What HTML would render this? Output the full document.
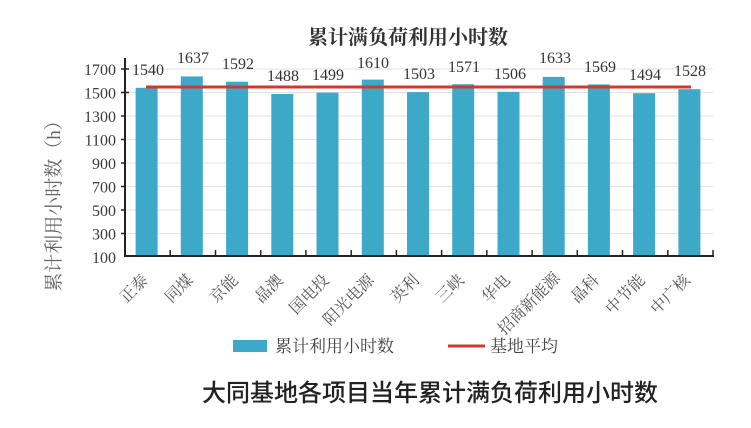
<!DOCTYPE html>
<html><head><meta charset="utf-8"><style>
html,body{margin:0;padding:0;background:#fff;}
svg{display:block;}
.tk{font-family:"Liberation Serif","Noto Serif CJK SC",serif;font-size:16px;fill:#3a3a3a;}
.dl{font-family:"Liberation Serif","Noto Serif CJK SC",serif;font-size:16px;fill:#333;}
.xl{font-family:"Liberation Serif","Noto Serif CJK SC","WenQuanYi Zen Hei",serif;font-size:16px;fill:#555;}
</style></head><body>
<svg width="751" height="428" viewBox="0 0 751 428" xmlns="http://www.w3.org/2000/svg">
<rect width="751" height="428" fill="#fff"/>
<text x="408" y="44" text-anchor="middle" style="font-family:'Liberation Serif','Noto Serif CJK SC',serif;font-size:20px;font-weight:bold;fill:#333">累计满负荷利用小时数</text>
<g stroke="#e2e2e2" stroke-width="1">
<line x1="125" y1="233.5" x2="713" y2="233.5"/>
<line x1="125" y1="210" x2="713" y2="210"/>
<line x1="125" y1="186.5" x2="713" y2="186.5"/>
<line x1="125" y1="163" x2="713" y2="163"/>
<line x1="125" y1="139.5" x2="713" y2="139.5"/>
<line x1="125" y1="116" x2="713" y2="116"/>
<line x1="125" y1="92.5" x2="713" y2="92.5"/>
<line x1="125" y1="69" x2="713" y2="69"/>
</g>
<g class="tk" text-anchor="end">
<text x="116" y="263">100</text>
<text x="116" y="239.5">300</text>
<text x="116" y="216">500</text>
<text x="116" y="192.5">700</text>
<text x="116" y="169">900</text>
<text x="116" y="145.5">1100</text>
<text x="116" y="122">1300</text>
<text x="116" y="98.5">1500</text>
<text x="116" y="75">1700</text>
</g>
<text transform="translate(60,201.5) rotate(-90)" text-anchor="middle" style="font-family:'Liberation Serif','Noto Serif CJK SC',serif;font-size:19px;fill:#666">累计利用小时数（h）</text>
<g fill="#3da9c8">
<rect x="135.6" y="87.8" width="22" height="168.2"/>
<rect x="180.8" y="76.4" width="22" height="179.6"/>
<rect x="226.1" y="81.7" width="22" height="174.3"/>
<rect x="271.3" y="93.9" width="22" height="162.1"/>
<rect x="316.5" y="92.6" width="22" height="163.4"/>
<rect x="361.8" y="79.6" width="22" height="176.4"/>
<rect x="407.0" y="92.1" width="22" height="163.9"/>
<rect x="452.2" y="84.2" width="22" height="171.8"/>
<rect x="497.5" y="91.8" width="22" height="164.2"/>
<rect x="542.7" y="76.9" width="22" height="179.1"/>
<rect x="587.9" y="84.4" width="22" height="171.6"/>
<rect x="633.1" y="93.2" width="22" height="162.8"/>
<rect x="678.4" y="89.2" width="22" height="166.8"/>
</g>
<line x1="146" y1="87" x2="691" y2="87" stroke="#d2392e" stroke-width="3"/>
<g stroke="#222" stroke-width="2">
<line x1="125" y1="58" x2="125" y2="257"/>
<line x1="124" y1="256" x2="714" y2="256"/>
</g>
<g stroke="#222" stroke-width="1.5">
<line x1="121" y1="69" x2="129" y2="69"/>
<line x1="121" y1="92.5" x2="129" y2="92.5"/>
<line x1="121" y1="116" x2="125" y2="116"/>
<line x1="121" y1="139.5" x2="125" y2="139.5"/>
<line x1="121" y1="163" x2="125" y2="163"/>
<line x1="121" y1="186.5" x2="125" y2="186.5"/>
<line x1="121" y1="210" x2="125" y2="210"/>
<line x1="121" y1="233.5" x2="125" y2="233.5"/>
<line x1="170.2" y1="250" x2="170.2" y2="256"/>
<line x1="215.5" y1="250" x2="215.5" y2="256"/>
<line x1="260.7" y1="250" x2="260.7" y2="256"/>
<line x1="305.9" y1="250" x2="305.9" y2="256"/>
<line x1="351.2" y1="250" x2="351.2" y2="256"/>
<line x1="396.4" y1="250" x2="396.4" y2="256"/>
<line x1="441.6" y1="250" x2="441.6" y2="256"/>
<line x1="486.8" y1="250" x2="486.8" y2="256"/>
<line x1="532.1" y1="250" x2="532.1" y2="256"/>
<line x1="577.3" y1="250" x2="577.3" y2="256"/>
<line x1="622.5" y1="250" x2="622.5" y2="256"/>
<line x1="667.8" y1="250" x2="667.8" y2="256"/>
<line x1="713" y1="250" x2="713" y2="256"/>
</g>
<g class="dl" text-anchor="middle">
<text x="148" y="75">1540</text>
<text x="193" y="63">1637</text>
<text x="238" y="69">1592</text>
<text x="283" y="81">1488</text>
<text x="328" y="80">1499</text>
<text x="373" y="68">1610</text>
<text x="419" y="79">1503</text>
<text x="464" y="72">1571</text>
<text x="510" y="79">1506</text>
<text x="555" y="63">1633</text>
<text x="600" y="72">1569</text>
<text x="645" y="80">1494</text>
<text x="690" y="76">1528</text>
</g>
<g class="xl" text-anchor="end">
<text transform="translate(149,281) rotate(-45)">正泰</text>
<text transform="translate(194,281) rotate(-45)">同煤</text>
<text transform="translate(239,281) rotate(-45)">京能</text>
<text transform="translate(284,281) rotate(-45)">晶澳</text>
<text transform="translate(330,281) rotate(-45)">国电投</text>
<text transform="translate(375,281) rotate(-45)">阳光电源</text>
<text transform="translate(420,281) rotate(-45)">英利</text>
<text transform="translate(465,281) rotate(-45)">三峡</text>
<text transform="translate(511,281) rotate(-45)">华电</text>
<text transform="translate(561,279) rotate(-45)">招商新能源</text>
<text transform="translate(600,281) rotate(-45)">晶科</text>
<text transform="translate(646,281) rotate(-45)">中节能</text>
<text transform="translate(691,281) rotate(-45)">中广核</text>
</g>
<rect x="233" y="340" width="34" height="12" fill="#3da9c8"/>
<text x="275" y="352" style="font-family:'Liberation Serif','Noto Serif CJK SC',serif;font-size:17px;fill:#444">累计利用小时数</text>
<line x1="448" y1="346" x2="485" y2="346" stroke="#d2392e" stroke-width="3"/>
<text x="490" y="352" style="font-family:'Liberation Serif','Noto Serif CJK SC',serif;font-size:17px;fill:#444">基地平均</text>
<text x="430" y="401" text-anchor="middle" style="font-family:'Liberation Sans','Noto Sans CJK SC',sans-serif;font-size:24px;font-weight:500;fill:#222">大同基地各项目当年累计满负荷利用小时数</text>
</svg>
</body></html>
